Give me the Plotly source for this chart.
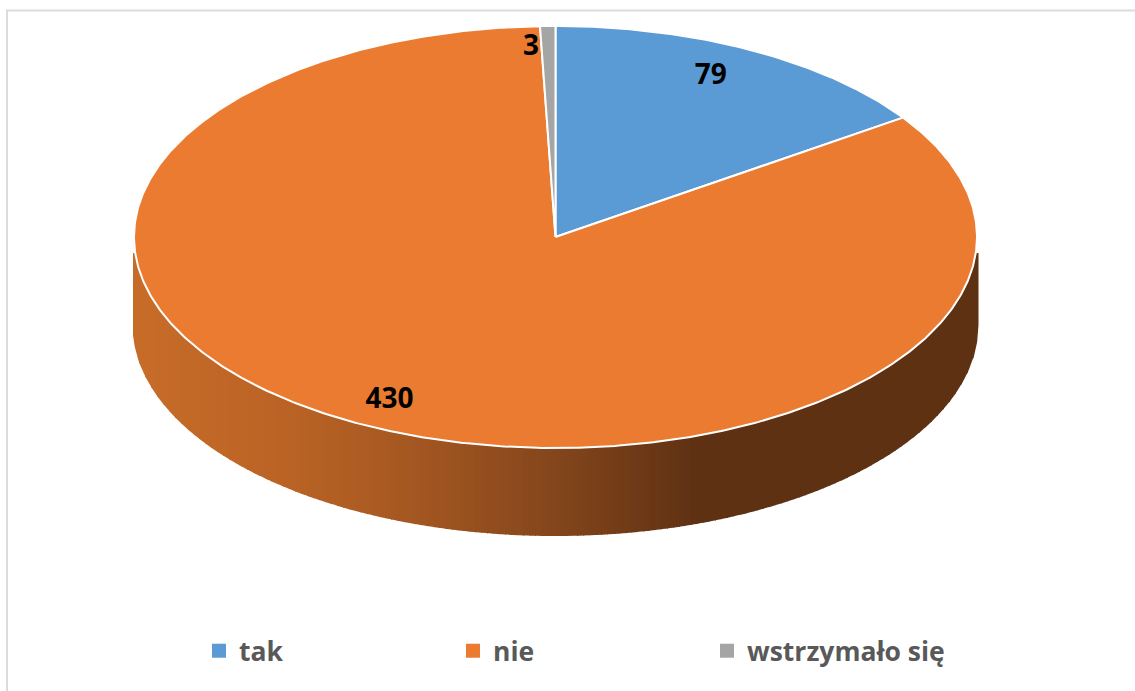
import numpy as np
import plotly.graph_objects as go

categories = ["tak", "nie", "wstrzymało się"]
values = [79, 430, 3]
slice_colors = ["#5B9BD5", "#EA7B30", "#A5A5A5"]
label_radius = [0.86, 0.855, 0.912]
label_nudge_deg = [-2.4, 0.7, -2.6]

W, H = 1135, 691
CX, CY, RX, RY = 555.5, 237.0, 421.5, 211.0
DEPTH = 88.0
WALL_RX, WALL_TOP = 423.0, 253.0
WALL_STOPS_X = [133, 280, 400, 555, 700, 978]
WALL_STOPS_R = [0xC8, 0xBC, 0xA8, 0x84, 0x5E, 0x5E]
WALL_STOPS_G = [0x6D, 0x64, 0x59, 0x46, 0x31, 0x31]
WALL_STOPS_B = [0x29, 0x26, 0x22, 0x1C, 0x13, 0x13]
BAND = 6
LABEL_DY = 3.5


def pt(deg, frac=1.0):
    a = np.radians(deg)
    return CX + RX * frac * np.sin(a), CY - RY * frac * np.cos(a)


fig = go.Figure()

# Side wall of the disc, banded from left to right
edges = np.arange(WALL_STOPS_X[0], WALL_STOPS_X[-1], BAND)
for x0 in edges:
    x1 = min(x0 + BAND + 1.0, CX + WALL_RX)
    xs = np.linspace(x0, x1, 5)
    u = np.clip((xs - CX) / WALL_RX, -1, 1)
    bottom = CY + DEPTH + RY * np.sqrt(1 - u ** 2)
    mid = (x0 + x1) / 2
    r = int(np.interp(mid, WALL_STOPS_X, WALL_STOPS_R))
    g = int(np.interp(mid, WALL_STOPS_X, WALL_STOPS_G))
    b = int(np.interp(mid, WALL_STOPS_X, WALL_STOPS_B))
    fig.add_trace(go.Scatter(
        x=[x0, *xs, x1, x0], y=[WALL_TOP, *bottom, WALL_TOP, WALL_TOP],
        mode="lines", fill="toself", fillcolor=f"rgb({r},{g},{b})",
        line=dict(width=0), hoverinfo="skip", showlegend=False,
    ))

# Top faces, computed from the values
total = sum(values)
start = 0.0
mids = []
for cat, val, col in zip(categories, values, slice_colors):
    sweep = 360.0 * val / total
    angles = np.linspace(start, start + sweep, max(int(sweep) * 2, 8))
    px, py = pt(angles)
    fig.add_trace(go.Scatter(
        x=[CX, *px, CX], y=[CY, *py, CY], mode="lines", fill="toself",
        fillcolor=col, line=dict(color="white", width=2),
        name=cat, text=f"{cat}: {val}", hoverinfo="text", showlegend=False,
    ))
    mids.append(start + sweep / 2)
    start += sweep

# Value labels
for val, mid, rad, nudge in zip(values, mids, label_radius, label_nudge_deg):
    lx, ly = pt(mid + nudge, rad)
    fig.add_trace(go.Scatter(
        x=[lx], y=[ly + LABEL_DY], mode="text", text=[str(val)], textposition="middle center",
        textfont=dict(family="Open Sans", size=28, color="#000000", weight="bold"),
        hoverinfo="skip", showlegend=False,
    ))

# Legend entries
for cat, col in zip(categories, slice_colors):
    fig.add_trace(go.Scatter(
        x=[None], y=[None], mode="markers", name=cat,
        marker=dict(symbol="square", size=14, color=col),
    ))

fig.update_layout(
    width=W, height=H, margin=dict(l=0, r=0, t=0, b=0),
    paper_bgcolor="white", plot_bgcolor="white",
    xaxis=dict(range=[0, W], visible=False, fixedrange=True),
    yaxis=dict(range=[H, 0], visible=False, fixedrange=True),
    legend=dict(
        orientation="h", x=199 / W, y=1 - 651 / H, xanchor="left", yanchor="middle",
        entrywidth=209, entrywidthmode="pixels", itemwidth=30, tracegroupgap=0,
        font=dict(family="Open Sans", size=26.5, color="#595959", weight="bold"),
        bgcolor="rgba(0,0,0,0)",
    ),
    shapes=[
        dict(type="line", xref="x", yref="y", x0=6, x1=W, y0=10.5, y1=10.5,
             line=dict(color="#DCDCDC", width=2)),
        dict(type="line", xref="x", yref="y", x0=7, x1=7, y0=10, y1=H,
             line=dict(color="#DCDCDC", width=2)),
    ],
)

fig.write_html(
    "out.html",
    config=dict(displayModeBar=False),
    post_script="document.body.style.margin='0';document.documentElement.style.overflow='hidden';",
)
